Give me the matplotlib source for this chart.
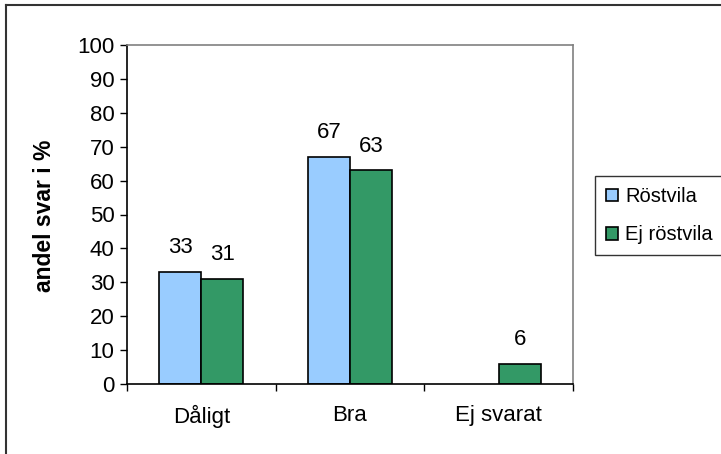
import matplotlib
matplotlib.use("Agg")
import matplotlib.pyplot as plt
from matplotlib.lines import Line2D
import numpy as np

plt.rcParams['font.family'] = ['Liberation Sans', 'DejaVu Sans']

categories = ['Dåligt', 'Bra', 'Ej svarat']
rostvila = [33, 67, 0]
ej_rostvila = [31, 63, 6]
series_names = ['Röstvila', 'Ej röstvila']
yticks = [0, 10, 20, 30, 40, 50, 60, 70, 80, 90, 100]

FS = 16
W, H = 721, 454
fig = plt.figure(figsize=(W / 100, H / 100), dpi=100)
ax = fig.add_axes([127 / W, 1 - 384 / H, (573 - 127) / W, (384 - 45) / H])

x = np.arange(len(categories))
bw = 0.283
b1 = ax.bar(x - bw / 2, rostvila, bw, color='#99CCFF', edgecolor='black', linewidth=1.2, label=series_names[0])
b2 = ax.bar(x + bw / 2, ej_rostvila, bw, color='#339966', edgecolor='black', linewidth=1.2, label=series_names[1])

# value labels, skip zeros (and hide empty bars)
for bars, vals in [(b1, rostvila), (b2, ej_rostvila)]:
    for rect, v in zip(bars, vals):
        if v == 0:
            rect.set_visible(False)
            continue
        ax.annotate(str(v), (rect.get_x() + rect.get_width() / 2, v),
                    xytext=(0, 10), textcoords='offset points',
                    ha='center', va='bottom', fontsize=FS)

ax.set_ylim(0, 100)
ax.set_xlim(-0.5, len(categories) - 0.5)
ax.set_yticks(yticks)
ax.tick_params(axis='y', labelsize=FS, length=5, width=1, direction='out', pad=4)
ax.set_xticks(x)
ax.set_xticklabels(categories)
ax.tick_params(axis='x', which='major', length=0, labelsize=FS, pad=15)
ax.set_xticks(np.arange(-0.5, len(categories), 1), minor=True)
ax.tick_params(axis='x', which='minor', length=5, width=1, direction='out')

for s in ['top', 'right']:
    ax.spines[s].set_color('#808080')
    ax.spines[s].set_linewidth(1.2)
for s in ['left', 'bottom']:
    ax.spines[s].set_color('black')
    ax.spines[s].set_linewidth(1.2)

fig.text(45 / W, 1 - 216 / H, 'andel svar i %', rotation=90, ha='center', va='center',
         fontsize=16.5, fontweight='bold')

leg = fig.legend(handles=[b1, b2], loc='upper left',
                 bbox_to_anchor=(595 / W, 1 - 176 / H),
                 frameon=True, fancybox=False, fontsize=14.5,
                 handlelength=0.6, handleheight=0.6, handletextpad=0.35,
                 labelspacing=0.95, borderpad=0.55, borderaxespad=0)
leg.get_frame().set_edgecolor('black')
leg.get_frame().set_linewidth(1.0)

# outer frame (only top and left visible)
fig.add_artist(Line2D([6 / W, 1], [1 - 5 / H, 1 - 5 / H], color='#333333', linewidth=1.5))
fig.add_artist(Line2D([6 / W, 6 / W], [0, 1 - 5 / H], color='#333333', linewidth=1.5))

fig.savefig('out.png', dpi=100)
